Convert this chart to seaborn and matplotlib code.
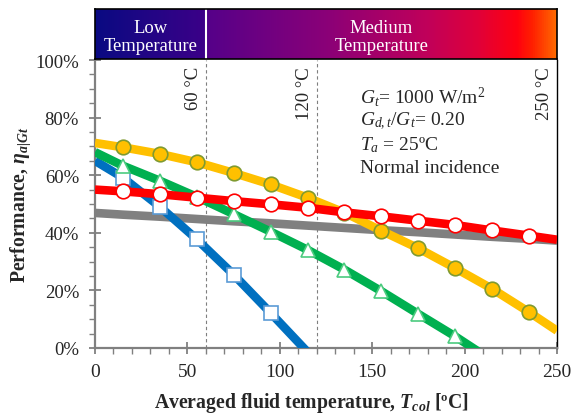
import numpy as np
import pandas as pd
import matplotlib
matplotlib.use("Agg")
import matplotlib.pyplot as plt
import seaborn as sns
from matplotlib.colors import LinearSegmentedColormap
from matplotlib.ticker import MultipleLocator, FuncFormatter

# ---- data ----
T_col = [0, 15, 35, 55, 75, 95, 115, 135, 155, 175, 195, 215, 235, 250]
eta_blue = [65.0, 59.2, 49.1, 37.8, 25.5, 12.2, -1.4, None, None, None, None, None, None, None]
eta_green = [68.0, 63.3, 58.1, 52.5, 46.5, 40.4, 34.1, 27.2, 19.7, 11.8, 4.0, -4.4, None, None]
eta_yellow = [71.2, 69.7, 67.4, 64.5, 60.8, 56.8, 52.2, 47.0, 40.7, 34.6, 27.7, 20.5, 12.4, 6.0]
eta_red = [55.0, 54.4, 53.4, 52.2, 51.0, 49.9, 48.7, 47.1, 45.7, 44.2, 42.7, 40.8, 39.0, 37.6]
eta_gray = [46.9, 46.3, 45.6, 44.8, 44.0, 43.3, 42.5, 41.7, 40.9, 40.2, 39.4, 38.6, 37.9, 37.3]
ref_lines = [60, 120]
ref_labels = ["60 °C", "120 °C", "250 °C"]
ref_label_pos = [60, 120, 250]
annot_lines = [r"$G_t$= 1000 W/m$^2$", r"$G_{d,t}$/$G_t$= 0.20", r"$T_a$ = 25ºC", "Normal incidence"]
x_ticks = [0, 50, 100, 150, 200, 250]
y_ticks = [0, 20, 40, 60, 80, 100]

sns.set_style("ticks")
plt.rcParams["font.family"] = ["Liberation Serif", "DejaVu Serif"]
plt.rcParams["mathtext.fontset"] = "custom"
plt.rcParams["mathtext.rm"] = "Liberation Serif"
plt.rcParams["mathtext.it"] = "Liberation Serif:italic"
plt.rcParams["mathtext.bf"] = "Liberation Serif:bold"
plt.rcParams["mathtext.bfit"] = "Liberation Serif:bold:italic"

series = [
    ("gray", eta_gray, "#808080", None, None, None, 2),
    ("blue", eta_blue, "#0070C0", "s", "white", "#5B9BD5", 3),
    ("green", eta_green, "#00B050", "^", "white", "#4CCB7F", 4),
    ("yellow", eta_yellow, "#FFC000", "o", "#FFC000", "#7F9A30", 5),
    ("red", eta_red, "#FF0000", "o", "white", "#FF0000", 6),
]

fig = plt.figure(figsize=(5.73, 4.14), dpi=100)
L, R = 95 / 573, 557 / 573
B, Tp = 1 - 349 / 414, 1 - 61 / 414
ax = fig.add_axes([L, B, R - L, Tp - B])
hx = fig.add_axes([L, 1 - 60 / 414, R - L, 50 / 414])

for name, vals, col, mk, mfc, mec, z in series:
    df = pd.DataFrame({"T": T_col, "eta": vals}).dropna()
    sns.lineplot(data=df, x="T", y="eta", ax=ax, color=col, lw=6.2,
                 solid_capstyle="butt", zorder=z, legend=False)
    if mk is not None:
        dm = df[(df["T"] > 0) & (df["T"] < 250) & (df["eta"] >= 0)]
        ms = 10 if mk == "s" else 10.5
        ax.plot(dm["T"], dm["eta"], ls="none", marker=mk, ms=ms, mfc=mfc,
                mec=mec, mew=1.2, zorder=z + 0.5, clip_on=True)

for xv in ref_lines:
    ax.axvline(xv, color="#7f7f7f", ls=(0, (3, 2.5)), lw=0.8, zorder=1)
for lab, xv in zip(ref_labels, ref_label_pos):
    ax.text(xv - 6.5, 98.0, lab, rotation=90, ha="center", va="top", fontsize=13.5, zorder=10)

for i, s in enumerate(annot_lines):
    ax.text(143.5, 87.5 - i * 8.3, s, ha="left", va="center", fontsize=14, zorder=10)

ax.set_xlim(0, 250)
ax.set_ylim(0, 100)
ax.set_xticks(x_ticks)
ax.set_yticks(y_ticks)
ax.xaxis.set_minor_locator(MultipleLocator(10))
ax.yaxis.set_minor_locator(MultipleLocator(5))
ax.yaxis.set_major_formatter(FuncFormatter(lambda v, p: f"{v:.0f}%"))
ax.tick_params(which="major", direction="inout", length=9, width=1.3, color="#808080",
               labelsize=13.5)
ax.tick_params(axis="x", which="major", labelsize=14, pad=6)
ax.tick_params(axis="y", which="major", pad=7)
ax.tick_params(which="minor", direction="out", length=4, width=1.0, color="#808080")
for sp in ["left", "bottom"]:
    ax.spines[sp].set_color("#808080")
    ax.spines[sp].set_linewidth(1.6)
ax.spines["right"].set_color("black")
ax.spines["right"].set_linewidth(1.0)
ax.spines["top"].set_visible(False)
ax.set_xlabel(r"Averaged fluid temperature, $\mathbfit{T}_{\mathbfit{col}}$ [ºC]",
              fontsize=14.2, fontweight="bold")
ax.xaxis.label.set_va("baseline")
ax.xaxis.set_label_coords(0.4686, -0.205)
ax.set_ylabel(r"Performance, $\mathbfit{\eta}_{\mathbfit{a|Gt}}$",
              fontsize=14.2, fontweight="bold")
ax.yaxis.label.set_va("center")
ax.yaxis.set_label_coords(-0.160, 0.5)

# header gradient bar
cmap = LinearSegmentedColormap.from_list("hdr", [
    (0.0, "#0A0A82"), (0.24, "#3C0088"), (0.245, "#560089"),
    (0.5, "#8A0078"), (0.72, "#C0005A"), (0.83, "#E0003A"),
    (0.915, "#FF0010"), (0.95, "#FF2000"), (1.0, "#FF6A00")])
grad = np.linspace(0, 1, 500).reshape(1, -1)
hx.imshow(grad, cmap=cmap, aspect="auto", extent=[0, 250, 0, 1])
hx.set_xlim(0, 250)
hx.set_ylim(0, 1)
hx.axvline(60, color="white", lw=1.5)
hx.set_xticks([])
hx.set_yticks([])
for sp in hx.spines.values():
    sp.set_color("black")
    sp.set_linewidth(1.2)
hx.text(30, 0.45, "Low\nTemperature", color="white", ha="center", va="center",
        fontsize=13.4, linespacing=1.12)
hx.text(155, 0.45, "Medium\nTemperature", color="white", ha="center", va="center",
        fontsize=13.4, linespacing=1.12)

fig.savefig("out.png", dpi=100)
